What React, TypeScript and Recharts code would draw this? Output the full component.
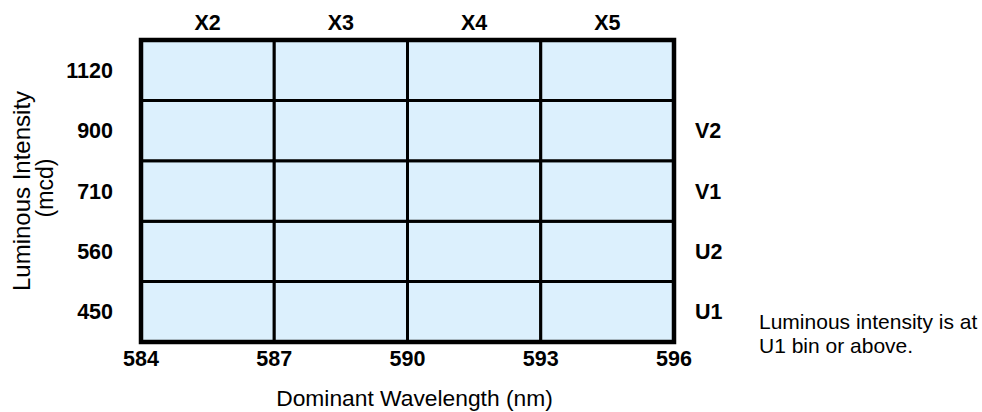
import React from "react";
import { ComposedChart, XAxis, YAxis, ReferenceArea, Label } from "recharts";

// bin grid: dominant wavelength columns x luminous intensity rows
const wavelengthEdges = [584, 587, 590, 593, 596];
const colorBins = ["X2", "X3", "X4", "X5"];
const rowEdges = [0, 1, 2, 3, 4, 5];
const intensityLabels = ["1120", "900", "710", "560", "450"]; // top row first
const intensityBins = ["V2", "V1", "U2", "U1"]; // rows 2..5
const noteLines = ["Luminous intensity is at", "U1 bin or above."];

const FONT = '"Liberation Sans", Arial, Helvetica, sans-serif';
const CELL_FILL = "#dcf0fd";

const colMids = colorBins.map((_, i) => (wavelengthEdges[i] + wavelengthEdges[i + 1]) / 2);
const nRows = rowEdges.length - 1;
const leftTicks = intensityLabels.map((_, i) => nRows - i - 0.5);
const rightTicks = intensityBins.map((_, i) => nRows - 1 - i - 0.5);

const cells: { x1: number; x2: number; y1: number; y2: number }[] = [];
for (let c = 0; c < wavelengthEdges.length - 1; c++) {
  for (let r = 0; r < nRows; r++) {
    cells.push({ x1: wavelengthEdges[c], x2: wavelengthEdges[c + 1], y1: rowEdges[r], y2: rowEdges[r + 1] });
  }
}

// grid corners, so every axis has values in its domain
const data = wavelengthEdges.flatMap((w) => rowEdges.map((r) => ({ w, r })));
const bold = { fill: "#000", fontSize: 21.5, fontWeight: "bold" as const };

function YTitle(props: any) {
  const vb = props.viewBox || { x: 0, y: 40, width: 141, height: 302 };
  const cy = vb.y + vb.height / 2;
  return (
    <g>
      <text x={29.5} y={cy} transform={`rotate(-90, 29.5, ${cy})`} textAnchor="middle" fontSize={24} fill="#000">
        Luminous Intensity
      </text>
      <text x={53} y={cy - 3} transform={`rotate(-90, 53, ${cy - 3})`} textAnchor="middle" fontSize={23} fill="#000">
        (mcd)
      </text>
    </g>
  );
}

function Note(props: any) {
  const vb = props.viewBox || { x: 674, y: 40, width: 308, height: 302 };
  const x = vb.x + 85;
  return (
    <g>
      {noteLines.map((t, i) => (
        <text key={t} x={x} y={329 + i * 23.5} fontSize={21} fill="#000">
          {t}
        </text>
      ))}
    </g>
  );
}

export default function App() {
  return (
    <div style={{ position: "absolute", left: 0, top: 0 }}>
      <ComposedChart
        width={982}
        height={412}
        data={data}
        margin={{ top: 0, right: 0, bottom: 0, left: 0 }}
        style={{ fontFamily: FONT }}
      >
        <XAxis
          dataKey="w"
          type="number"
          domain={[584, 596]}
          allowDataOverflow
          ticks={wavelengthEdges}
          interval={0}
          height={70}
          axisLine={false}
          tickLine={false}
          tickSize={0}
          tickMargin={9}
          tick={bold}
        >
          <Label value="Dominant Wavelength (nm)" position="insideBottom" offset={6} dx={7} fontSize={22.8} fill="#000" />
        </XAxis>
        <XAxis
          xAxisId="top"
          dataKey="w"
          orientation="top"
          type="number"
          domain={[584, 596]}
          allowDataOverflow
          ticks={colMids}
          interval={0}
          height={40}
          axisLine={false}
          tickLine={false}
          tickSize={0}
          tickMargin={10}
          tick={bold}
          tickFormatter={(v: number) => colorBins[colMids.indexOf(v)] ?? ""}
        />
        <YAxis
          dataKey="r"
          type="number"
          domain={[0, nRows]}
          allowDataOverflow
          ticks={leftTicks}
          interval={0}
          width={141}
          axisLine={false}
          tickLine={false}
          tickSize={0}
          tickMargin={28}
          tick={bold}
          tickFormatter={(v: number) => intensityLabels[leftTicks.indexOf(v)] ?? ""}
        >
          <Label content={YTitle} />
        </YAxis>
        <YAxis
          yAxisId="right"
          dataKey="r"
          orientation="right"
          type="number"
          domain={[0, nRows]}
          allowDataOverflow
          ticks={rightTicks}
          interval={0}
          width={308}
          axisLine={false}
          tickLine={false}
          tickSize={0}
          tickMargin={21}
          tick={bold}
          tickFormatter={(v: number) => intensityBins[rightTicks.indexOf(v)] ?? ""}
        >
          <Label content={Note} />
        </YAxis>
        {cells.map((c, i) => (
          <ReferenceArea
            key={i}
            x1={c.x1}
            x2={c.x2}
            y1={c.y1}
            y2={c.y2}
            fill={CELL_FILL}
            fillOpacity={1}
            stroke="#000"
            strokeWidth={3}
          />
        ))}
        <ReferenceArea
          x1={wavelengthEdges[0]}
          x2={wavelengthEdges[wavelengthEdges.length - 1]}
          y1={rowEdges[0]}
          y2={rowEdges[rowEdges.length - 1]}
          fill="none"
          stroke="#000"
          strokeWidth={4.5}
        />
      </ComposedChart>
    </div>
  );
}
